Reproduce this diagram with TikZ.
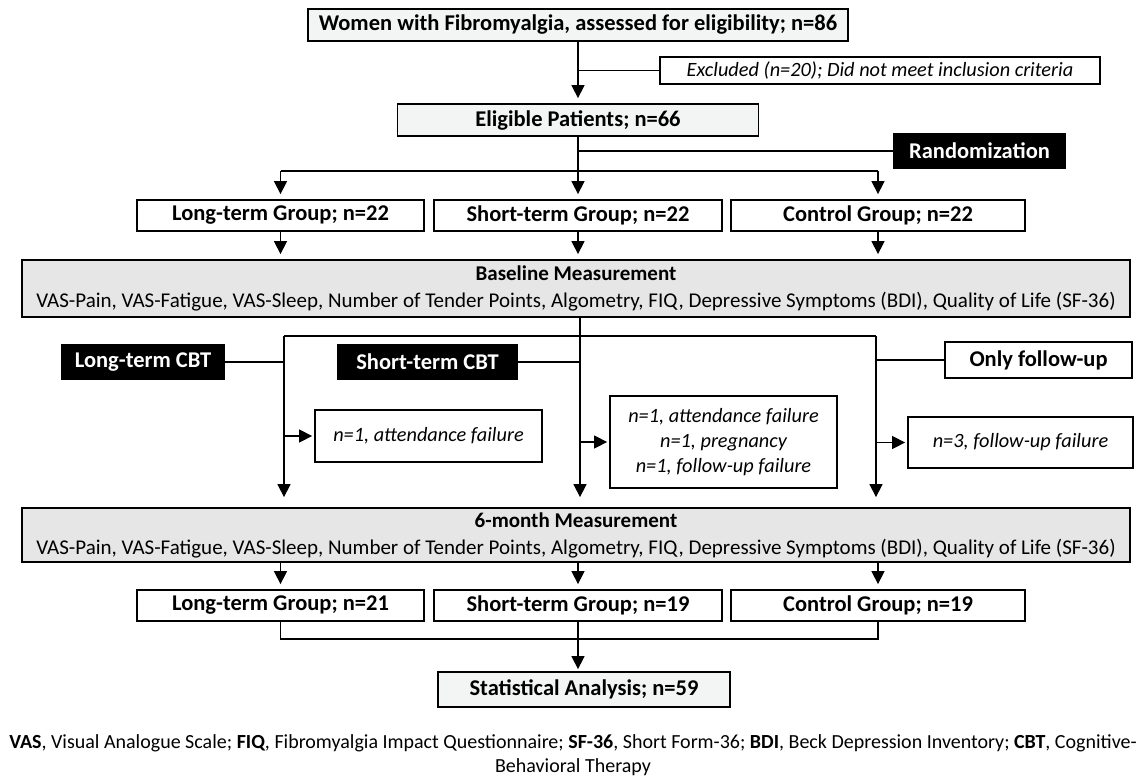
\documentclass[tikz,border=0pt]{standalone}
\usepackage{fontspec}
\setmainfont{Carlito}
\usetikzlibrary{arrows.meta,calc}
\definecolor{lightbox}{HTML}{F3F4F4}
\definecolor{midbox}{HTML}{E6E6E6}
\begin{document}
\begin{tikzpicture}[x=1pt,y=-1pt,
  box/.style={draw=black, line width=1.8pt, inner sep=0pt, align=center,
    font=\fontsize{22.5}{26}\selectfont\bfseries},
  graybox/.style={box, fill=lightbox},
  measbox/.style={box, fill=midbox, font=\fontsize{21}{27}\selectfont},
  blackbox/.style={box, fill=black, text=white},
  notebox/.style={box, font=\fontsize{20.3}{25}\selectfont\itshape},
  conn/.style={line width=1.4pt},
  arr/.style={conn, -{Triangle[width=13pt,length=13pt]}, shorten >=5pt},
  capt/.style={inner sep=0pt, font=\fontsize{20}{24}\selectfont}
]
\useasboundingbox (0,0) rectangle (1146,777);

% nodes
\node[graybox, minimum width=540, minimum height=32] (top) at (578,25) {Women with Fibromyalgia, assessed for eligibility; n=86};
\node[notebox, minimum width=440, minimum height=27] (excl) at (880,70.5) {Excluded (n=20); Did not meet inclusion criteria};
\node[graybox, minimum width=361, minimum height=32] (elig) at (578,120) {Eligible Patients; n=66};
\node[blackbox, minimum width=171, minimum height=34] (rand) at (979.5,151) {Randomization};

\node[box, minimum width=287, minimum height=31] (g1L) at (280.5,215.5) {Long-term Group; n=22};
\node[box, minimum width=288, minimum height=31] (g1S) at (578,215.5) {Short-term Group; n=22};
\node[box, minimum width=294, minimum height=31] (g1C) at (878,215.5) {Control Group; n=22};

\node[measbox, minimum width=1108, minimum height=57] (base) at (576,288.5) {{\bfseries Baseline Measurement}\\VAS-Pain, VAS-Fatigue, VAS-Sleep, Number of Tender Points, Algometry, FIQ, Depressive Symptoms (BDI), Quality of Life (SF-36)};

\node[blackbox, minimum width=162, minimum height=34] (cbtL) at (143,362) {Long-term CBT};
\node[blackbox, minimum width=179, minimum height=34] (cbtS) at (427.5,362) {Short-term CBT};
\node[box, minimum width=187, minimum height=36] (only) at (1038.5,360) {Only follow-up};

\node[notebox, minimum width=227, minimum height=52] (dA) at (428.5,436) {n=1, attendance failure};
\node[notebox, minimum width=227, minimum height=92] (dB) at (723.5,442) {n=1, attendance failure\\n=1, pregnancy\\n=1, follow-up failure};
\node[notebox, minimum width=225, minimum height=51] (dC) at (1020.5,442.5) {n=3, follow-up failure};

\node[measbox, minimum width=1108, minimum height=54] (six) at (576,535) {{\bfseries 6-month Measurement}\\VAS-Pain, VAS-Fatigue, VAS-Sleep, Number of Tender Points, Algometry, FIQ, Depressive Symptoms (BDI), Quality of Life (SF-36)};

\node[box, minimum width=287, minimum height=31] (g2L) at (280.5,605.5) {Long-term Group; n=21};
\node[box, minimum width=288, minimum height=31] (g2S) at (578,605.5) {Short-term Group; n=19};
\node[box, minimum width=294, minimum height=31] (g2C) at (878,605.5) {Control Group; n=19};

\node[graybox, minimum width=292, minimum height=35] (stat) at (584,689.5) {Statistical Analysis; n=59};

\node[capt] (cap1) at (573,743) {\textbf{VAS}, Visual Analogue Scale; \textbf{FIQ}, Fibromyalgia Impact Questionnaire; \textbf{SF-36}, Short Form-36; \textbf{BDI}, Beck Depression Inventory; \textbf{CBT}, Cognitive-};
\node[capt] (cap2) at (573,767) {Behavioral Therapy};

% helper coordinates
\coordinate (r1) at (280.5,171);
\coordinate (r2) at (878,171);
\coordinate (bL) at (284,336);
\coordinate (bR) at (876,336);
\coordinate (bC) at (580,336);
\coordinate (s1) at (280.5,639);
\coordinate (s2) at (878,639);

% connectors top
\draw[arr] (top.south) -- (top.south |- elig.north);
\draw[conn] (top.south |- excl.west) -- (excl.west);
\draw[arr] (elig.south) -- (elig.south |- g1S.north);
\draw[conn] (elig.south |- rand.west) -- (rand.west);
\draw[conn] (r1) -- (r2);
\draw[arr] (r1) -- (g1L.north);
\draw[arr] (r2) -- (g1C.north);

% groups to baseline
\draw[arr] (g1L.south) -- (g1L.south |- base.north);
\draw[arr] (g1S.south) -- (g1S.south |- base.north);
\draw[arr] (g1C.south) -- (g1C.south |- base.north);

% branches
\draw[arr, shorten >=10pt] (base.south -| bC) -- (six.north -| bC);
\draw[conn] (bL) -- (bR);
\draw[arr, shorten >=10pt] (bL) -- (bL |- six.north);
\draw[arr, shorten >=10pt] (bR) -- (bR |- six.north);
\draw[conn] (cbtL.east) -- (cbtL.east -| bL);
\draw[conn] (cbtS.east) -- (cbtS.east -| bC);
\draw[conn] (only.west) -- (only.west -| bR);
\draw[arr, shorten >=2pt] (dA.west -| bL) -- (dA.west);
\draw[arr, shorten >=2pt] (dB.west -| bC) -- (dB.west);
\draw[arr, shorten >=2pt] (dC.west -| bR) -- (dC.west);

% six to groups
\draw[arr] (six.south -| g2L) -- (g2L.north);
\draw[arr] (six.south -| g2S) -- (g2S.north);
\draw[arr] (six.south -| g2C) -- (g2C.north);

% groups to statistics
\draw[conn] (g2L.south) -- (s1) -- (s2) -- (g2C.south);
\draw[arr, shorten >=2pt] (g2S.south) -- (g2S.south |- stat.north);
\end{tikzpicture}
\end{document}
